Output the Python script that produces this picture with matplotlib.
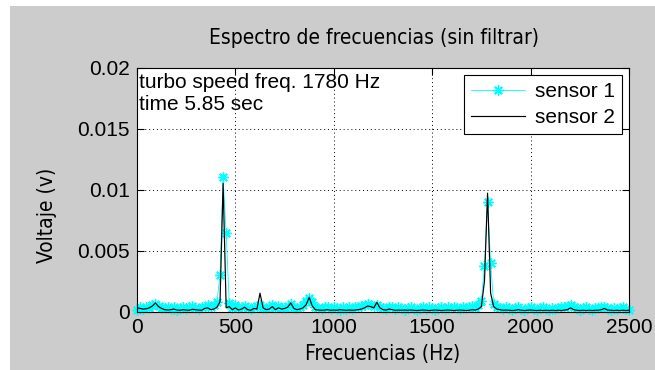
import numpy as np
import matplotlib
matplotlib.use("Agg")
import matplotlib.pyplot as plt
from matplotlib.patches import Rectangle

# ---- data (values in mV, frequency bins in Hz) ----
freq_max = 2500
n_bins = 161
freqs = np.linspace(0, freq_max, n_bins)

sensor1_mV = [
    0.15, 0.35, 0.20, 0.40, 0.30, 0.50, 0.60, 0.45, 0.25, 0.30,
    0.40, 0.20, 0.35, 0.15, 0.30, 0.40, 0.20, 0.35, 0.45, 0.30,
    0.20, 0.35, 0.40, 0.55, 0.35, 0.50, 0.80, 3.00, 11.00, 6.40,
    0.70, 0.30, 0.50, 0.25, 0.40, 0.45, 0.25, 0.20, 0.40, 0.45,
    0.50, 0.30, 0.25, 0.40, 0.50, 0.25, 0.45, 0.30, 0.25, 0.45,
    0.60, 0.30, 0.25, 0.40, 0.50, 0.90, 1.10, 0.80, 0.40, 0.25,
    0.20, 0.35, 0.40, 0.20, 0.35, 0.25, 0.15, 0.35, 0.20, 0.35,
    0.20, 0.35, 0.40, 0.45, 0.50, 0.60, 0.50, 0.45, 0.55, 0.40,
    0.25, 0.20, 0.40, 0.35, 0.20, 0.35, 0.25, 0.15, 0.30, 0.35,
    0.20, 0.15, 0.30, 0.35, 0.20, 0.40, 0.25, 0.15, 0.30, 0.35,
    0.20, 0.35, 0.25, 0.40, 0.30, 0.20, 0.35, 0.25, 0.40, 0.45,
    0.30, 0.50, 0.90, 3.70, 9.00, 4.00, 0.60, 0.40, 0.25, 0.20,
    0.35, 0.25, 0.15, 0.30, 0.35, 0.20, 0.15, 0.30, 0.35, 0.20,
    0.15, 0.30, 0.35, 0.20, 0.15, 0.30, 0.20, 0.25, 0.35, 0.40,
    0.45, 0.55, 0.35, 0.25, 0.15, 0.30, 0.35, 0.20, 0.15, 0.30,
    0.25, 0.35, 0.40, 0.25, 0.15, 0.30, 0.20, 0.25, 0.35, 0.20, 0.10,
]

sensor2_mV = [
    0.30, 0.25, 0.20, 0.22, 0.30, 0.45, 0.70, 0.40, 0.25, 0.15,
    0.12, 0.15, 0.20, 0.12, 0.10, 0.15, 0.12, 0.10, 0.18, 0.15,
    0.12, 0.10, 0.25, 0.30, 0.15, 0.20, 0.35, 0.80, 10.50, 0.30,
    0.40, 0.15, 0.30, 0.12, 0.20, 0.35, 0.15, 0.10, 0.25, 0.20,
    1.50, 0.30, 0.15, 0.20, 0.40, 0.15, 0.30, 0.20, 0.25, 0.35,
    0.70, 0.25, 0.15, 0.20, 0.30, 0.55, 1.15, 0.45, 0.15, 0.12,
    0.10, 0.12, 0.15, 0.10, 0.12, 0.10, 0.15, 0.12, 0.10, 0.12,
    0.10, 0.12, 0.15, 0.20, 0.30, 0.45, 0.40, 0.30, 0.75, 0.30,
    0.15, 0.12, 0.20, 0.15, 0.10, 0.12, 0.10, 0.12, 0.10, 0.12,
    0.10, 0.08, 0.10, 0.12, 0.10, 0.08, 0.10, 0.12, 0.10, 0.08,
    0.10, 0.12, 0.10, 0.08, 0.10, 0.12, 0.10, 0.08, 0.10, 0.15,
    0.12, 0.20, 0.40, 2.50, 9.70, 1.50, 0.40, 0.20, 0.15, 0.10,
    0.12, 0.10, 0.08, 0.10, 0.15, 0.10, 0.08, 0.10, 0.12, 0.10,
    0.08, 0.10, 0.08, 0.10, 0.08, 0.10, 0.08, 0.10, 0.08, 0.12,
    0.15, 0.30, 0.15, 0.10, 0.08, 0.10, 0.08, 0.10, 0.08, 0.10,
    0.10, 0.15, 0.25, 0.12, 0.10, 0.08, 0.10, 0.08, 0.10, 0.08, 0.10,
]

x_ticks = [0, 500, 1000, 1500, 2000, 2500]
y_ticks = [0, 0.005, 0.01, 0.015, 0.02]
y_tick_labels = ["0", "0.005", "0.01", "0.015", "0.02"]
series_labels = ["sensor 1", "sensor 2"]
title_text = "Espectro de frecuencias (sin filtrar)"
xlabel_text = "Frecuencias (Hz)"
ylabel_text = "Voltaje (v)"
note_lines = ["turbo speed freq. 1780 Hz", "time 5.85 sec"]

sensor1 = np.array(sensor1_mV) / 1000.0
sensor2 = np.array(sensor2_mV) / 1000.0

# ---- figure ----
W, H = 655, 370
fig = plt.figure(figsize=(W / 100, H / 100), dpi=100, facecolor="white")
fig.patches.append(Rectangle((10 / W, 0), 1 - 10 / W, (H - 6) / H,
                             transform=fig.transFigure, facecolor="#cccccc",
                             edgecolor="none", zorder=-10))

ax = fig.add_axes([137 / W, (H - 311.5) / H, 492 / W, 244 / H])
ax.set_zorder(1)
ax.set_facecolor("white")

tick_font = dict(family=["Liberation Sans", "DejaVu Sans"], size=15)
label_font = dict(family=["DejaVu Sans"], size=15, stretch="condensed")

ax.plot(freqs, sensor1, color="cyan", lw=0.6, marker=(8, 2, 0),
        markersize=7.5, markeredgewidth=1.0, label=series_labels[0],
        zorder=3, clip_on=False)
ax.plot(freqs, sensor2, color="black", lw=0.85, label=series_labels[1], zorder=4)

ax.set_xlim(0, 2500)
ax.set_ylim(0, 0.02)
ax.set_xticks(x_ticks)
ax.set_xticklabels([str(v) for v in x_ticks], **tick_font)
ax.set_yticks(y_ticks)
ax.set_yticklabels(y_tick_labels, **tick_font)
ax.tick_params(direction="in", length=5, width=0.8, top=True, right=True,
               pad=5, colors="black")
ax.grid(True, color="black", linestyle=(0, (1, 3)), linewidth=0.7)
for s in ax.spines.values():
    s.set_linewidth(0.8)
    s.set_color("black")
    s.set_zorder(5)

fig.text(374 / W, 1 - 38 / H, title_text, ha="center", va="center", **label_font)
fig.text(383 / W, 1 - 354 / H, xlabel_text, ha="center", va="center", **label_font)
fig.text(47 / W, 1 - 215 / H, ylabel_text, ha="center", va="center",
         rotation=90, **label_font)

ax.text(2 / 492, 1 - 20 / 244, note_lines[0], transform=ax.transAxes,
        ha="left", va="baseline", **tick_font)
ax.text(2 / 492, 1 - 42 / 244, note_lines[1], transform=ax.transAxes,
        ha="left", va="baseline", **tick_font)

leg = ax.legend(loc="upper right", bbox_to_anchor=(1 - 7 / 492, 1 - 7 / 244),
                prop=dict(family="Liberation Sans", size=15), numpoints=1,
                fancybox=False, framealpha=1, edgecolor="black",
                handlelength=2.6, borderpad=0.35, labelspacing=0.35,
                handletextpad=0.45, borderaxespad=0)
leg.get_frame().set_linewidth(0.8)
leg.set_zorder(6)

fig.savefig("out.png", dpi=100, facecolor=fig.get_facecolor())
